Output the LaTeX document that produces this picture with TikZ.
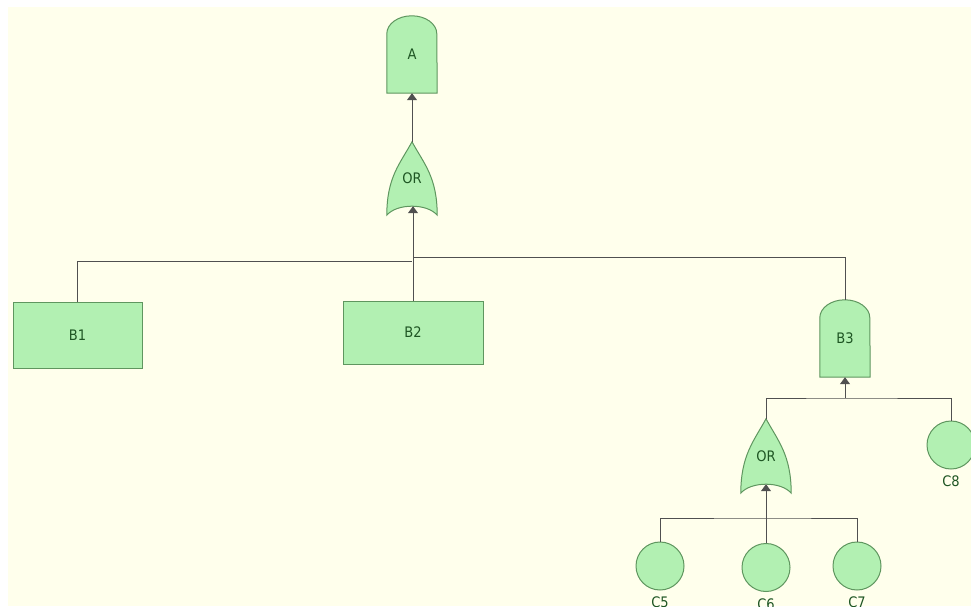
\documentclass[tikz,border=0pt]{standalone}
\usepackage{fontspec}
\setmainfont{DejaVu Sans Condensed}
\usepackage{tikz}
\usetikzlibrary{calc}
\usetikzlibrary{arrows.meta}
\usetikzlibrary{backgrounds}

\definecolor{paper}{RGB}{255,255,236}
\definecolor{gatefill}{RGB}{178,240,178}
\definecolor{gateedge}{RGB}{95,150,95}
\definecolor{gatetext}{RGB}{30,85,35}
\definecolor{wirecol}{RGB}{80,80,80}

\tikzset{
  gate/.style={fill=gatefill, draw=gateedge, line width=1pt},
  lbl/.style={inner sep=0pt, text=gatetext, font=\fontsize{14.5}{16}\selectfont},
  eventbox/.style={lbl, gate, rectangle},
  gatebox/.style={lbl, minimum width=50, minimum height=77},
  basic/.style={lbl, gate, circle, minimum size=48},
  wire/.style={draw=wirecol, line width=1pt},
  feed/.style={wire, -{Triangle[length=7pt, width=10pt]}}
}

% AND-type gate: flat bottom, rounded top
\newcommand{\andshape}[1]{
  \filldraw[gate] (#1.south west) -- ($(#1.north west)+(0,-18)$)
    arc[start angle=180, end angle=0, x radius=25pt, y radius=18pt]
    -- (#1.south east) -- cycle;
}
% OR gate: pointed top, curved base
\newcommand{\orshape}[1]{
  \filldraw[gate] (#1.north)
    .. controls ($(#1.north)+(-12,-22)$) and ($(#1.south west)+(0,38)$) .. (#1.south west)
    .. controls ($(#1.south west)+(10,12)$) and ($(#1.south east)+(-10,12)$) .. (#1.south east)
    .. controls ($(#1.south east)+(0,38)$) and ($(#1.north)+(12,-22)$) .. (#1.north) -- cycle;
}

\begin{document}
\begin{tikzpicture}[x=1pt, y=1pt]
  \useasboundingbox (0,0) rectangle (971,606);

  \node[gatebox] (A) at (412,551.5) {A};
  \node[gatebox, minimum height=73] (or1) at (412,427.5) {OR};
  \node[eventbox, minimum width=129, minimum height=66] (B1) at (77.5,271) {B1};
  \node[eventbox, minimum width=140, minimum height=63] (B2) at (413,273.5) {B2};
  \node[gatebox] (B3) at (845,267.5) {B3};
  \node[gatebox, minimum height=74] (or2) at (766,150) {OR};
  \node[basic, label={[lbl, label distance=6pt]below:C8}] (C8) at (951,161) {};
  \node[basic, label={[lbl, label distance=6pt]below:C5}] (C5) at (660,40) {};
  \node[basic, label={[lbl, label distance=7pt]below:C6}] (C6) at (766,38.5) {};
  \node[basic, label={[lbl, label distance=6pt]below:C7}] (C7) at (857,40) {};

  \begin{scope}[on background layer]
    \fill[paper] (8,0) rectangle (971,599);
    \andshape{A}
    \andshape{B3}
    \orshape{or1}
    \orshape{or2}
  \end{scope}

  \coordinate (or1in) at ($(or1.south)+(0,9)$);
  \coordinate (or2in) at ($(or2.south)+(0,9)$);
  \coordinate (top1) at (412,345);
  \coordinate (top2) at (413,349);
  \coordinate (mid) at (845,208);
  \coordinate (low) at (766,88);

  \draw[feed] (or1.north) -- (A.south);
  \draw[wire] (B1.north) |- (top1);
  \draw[wire] (B3.north) |- (top2);
  \draw[feed] (B2.north) -- (or1in -| B2.north);

  \draw[wire] (or2.north) |- (mid) -| (C8.north);
  \draw[feed] (mid) -- (B3.south);

  \draw[wire] (C5.north) |- (low) -| (C7.north);
  \draw[feed] (C6.north) -- (or2in);
\end{tikzpicture}
\end{document}
